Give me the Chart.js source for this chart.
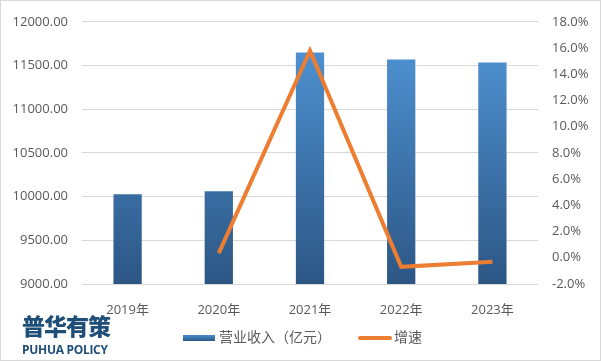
<!DOCTYPE html>
<html>
<head>
<meta charset="utf-8">
<script src="https://cdn.jsdelivr.net/npm/chart.js@4"></script>
<style>
    html, body { margin: 0; padding: 0; background: #fff; }
    #wrap {
        position: relative;
        width: 599px;
        height: 359px;
        border: 1px solid #D9D9D9;
        font-family: "Noto Sans CJK SC", "Microsoft YaHei", sans-serif;
        overflow: hidden;
    }
    #chart { position: absolute; left: -1px; top: -1px; }
    .logo-cn {
        position: absolute; left: 21px; top: 307px;
        font-size: 23px; font-weight: 900; color: #1F4E79; letter-spacing: -1px;
    }
    .logo-en {
        position: absolute; left: 21px; top: 340px;
        font-family: "Open Sans", sans-serif;
        font-size: 12px; font-weight: 700; color: #1F4E79; letter-spacing: -0.3px;
    }
    .legend { position: absolute; top: 325px; font-size: 14px; color: #595959; line-height: 20px; }
    .swatch-bar {
        display: inline-block; width: 32px; height: 6px; margin-right: 4px; vertical-align: middle;
        background: linear-gradient(#4A8BCB, #2C5A8A);
    }
    .swatch-line {
        display: inline-block; width: 34px; height: 4px; border-radius: 2px; margin-right: 2px; vertical-align: middle;
        background: #ED7D31;
    }
</style>
</head>
<body>
<div id="wrap">
    <canvas id="chart" width="601" height="361"></canvas>
    <div class="logo-cn">普华有策</div>
    <div class="logo-en">PUHUA POLICY</div>
    <div class="legend" style="left: 182px;"><span class="swatch-bar"></span>营业收入（亿元）</div>
    <div class="legend" style="left: 357px;"><span class="swatch-line"></span>增速</div>
</div>
<script>
// Data
const years = ['2019年', '2020年', '2021年', '2022年', '2023年'];
const revenue = [10027, 10062, 11648, 11568, 11534];
const growth = [null, 0.35, 15.8, -0.69, -0.3];

const leftTicks = [9000, 12000, 500];
const rightTicks = [-2, 18, 2];

const tickFont = { family: '"Open Sans", "Noto Sans CJK SC", sans-serif', size: 13 };
const tickColor = '#595959';

function barGradient(context) {
    const chart = context.chart;
    const area = chart.chartArea;
    if (!area) return '#3E7CBA';
    const g = chart.ctx.createLinearGradient(0, area.top, 0, area.bottom);
    g.addColorStop(0, '#5298DA');
    g.addColorStop(1, '#2C5684');
    return g;
}

const ctx = document.getElementById('chart').getContext('2d');
new Chart(ctx, {
    data: {
        labels: years,
        datasets: [
            {
                type: 'line',
                label: '增速',
                data: growth,
                yAxisID: 'y1',
                borderColor: '#ED7D31',
                borderWidth: 4,
                pointRadius: 0,
                tension: 0,
                order: 0
            },
            {
                type: 'bar',
                label: '营业收入（亿元）',
                data: revenue,
                yAxisID: 'y',
                backgroundColor: barGradient,
                categoryPercentage: 0.31,
                barPercentage: 1,
                order: 1
            }
        ]
    },
    options: {
        responsive: false,
        animation: false,
        layout: { padding: { top: 17, bottom: 0, left: 0, right: 0 } },
        plugins: { legend: { display: false }, tooltip: { enabled: false } },
        scales: {
            x: {
                grid: { display: false },
                border: { display: false },
                ticks: { color: tickColor, font: tickFont, padding: 10 },
                afterFit: s => { s.height = 77; }
            },
            y: {
                position: 'left',
                min: leftTicks[0], max: leftTicks[1],
                ticks: { stepSize: leftTicks[2], color: tickColor, font: tickFont, padding: 14,
                    callback: v => v.toFixed(2) },
                grid: { color: '#D9D9D9', drawTicks: false },
                border: { display: false },
                afterFit: s => { s.width = 82; }
            },
            y1: {
                position: 'right',
                min: rightTicks[0], max: rightTicks[1],
                ticks: { stepSize: rightTicks[2], color: tickColor, font: tickFont, padding: 14,
                    callback: v => v.toFixed(1) + '%' },
                grid: { display: false, drawTicks: false },
                border: { display: false },
                afterFit: s => { s.width = 63; }
            }
        }
    }
});
</script>
</body>
</html>
